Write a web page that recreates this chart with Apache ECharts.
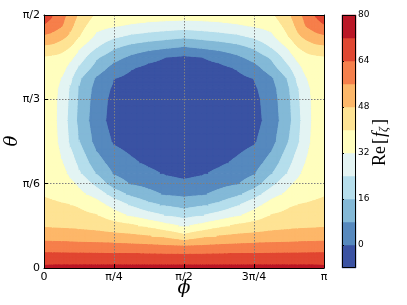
<!DOCTYPE html>
<html><head><meta charset="utf-8">
<script src="https://cdn.jsdelivr.net/npm/echarts@6/dist/echarts.min.js"></script>
<style>html,body{margin:0;padding:0;background:#fff}#c{width:407px;height:305px}</style>
</head><body><div id="c"></div>
<script>
// phi (x) and theta (y) sample positions, in degrees
const phiDeg = [0, 5.625, 11.25, 16.875, 22.5, 33.75, 45, 56.25, 67.5, 78.75, 90, 101.25, 112.5, 123.75, 135, 146.25, 157.5, 163.125, 168.75, 174.375, 180];
const thetaDeg = [0, 3.75, 7.5, 11.25, 15, 18.75, 22.5, 26.25, 30, 33.75, 37.5, 45, 52.5, 60, 63.75, 67.5, 71.25, 75, 78.75, 82.5, 86.25, 90];
// Re[f] values, one row per theta (bottom to top)
const row00 = [73.5,74,74,74,74,74,74,74,74,74,74,74,74,74,74,74,74,74,74,74,73.5];
const row01 = [67.1,67.1,67.1,67.1,67.1,67,67,66.9,66.9,66.8,66.8,66.8,66.9,66.9,67,67,67.1,67.1,67.1,67.1,67.1];
const row02 = [60,60,59.9,59.7,59.5,59.2,58.8,58.4,58,57.4,57,57.4,58,58.4,58.8,59.2,59.5,59.7,59.9,60,60];
const row03 = [52.6,52.3,52.1,51.9,51.5,51.1,50.4,49.6,48.3,46,42,46,48.3,49.6,50.4,51.1,51.5,51.9,52.1,52.3,52.6];
const row04 = [47.1,46.9,46.7,46.4,46.1,45.1,43,41.3,37.8,34.2,31,34.2,37.8,41.3,43,45.1,46.1,46.4,46.7,46.9,47.1];
const row05 = [44.4,43.9,43.3,42.5,41.7,40.3,35.4,30.6,27,23.5,20.8,23.5,27,30.6,35.4,40.3,41.7,42.5,43.3,43.9,44.4];
const row06 = [41.7,41.2,40.6,40,39.1,35.3,28.9,22.8,17.7,14.9,12.7,14.9,17.7,22.8,28.9,35.3,39.1,40,40.6,41.2,41.7];
const row07 = [39.4,38.4,37.2,35.6,34,28.9,20.3,14,10.3,7,6.2,7,10.3,14,20.3,28.9,34,35.6,37.2,38.4,39.4];
const row08 = [38.2,37.8,36.5,33.9,30.6,21.4,11.8,7.3,5.4,2.9,1.5,2.9,5.4,7.3,11.8,21.4,30.6,33.9,36.5,37.8,38.2];
const row09 = [38.3,36.8,34.8,30,24.9,15.4,7.2,4.4,1.7,-1,-2.2,-1,1.7,4.4,7.2,15.4,24.9,30,34.8,36.8,38.3];
const row10 = [37.8,35.8,32.5,27.7,22,11.3,4.3,1.2,-1.5,-3.5,-4.6,-3.5,-1.5,1.2,4.3,11.3,22,27.7,32.5,35.8,37.8];
const row11 = [37,34.8,29.5,22.6,16.2,5,-0.9,-3,-4.8,-5.2,-5.5,-5.2,-4.8,-3,-0.9,5,16.2,22.6,29.5,34.8,37];
const row12 = [36.8,34.5,28.4,21.5,13.8,3.3,-3,-4.5,-5.5,-5.7,-6,-5.7,-5.5,-4.5,-3,3.3,13.8,21.5,28.4,34.5,36.8];
const row13 = [37,34.8,28.6,22.5,14.5,4.2,-2.5,-4,-5,-5.2,-5.5,-5.2,-5,-4,-2.5,4.2,14.5,22.5,28.6,34.8,37];
const row14 = [37.3,35.3,29.4,23.1,15.5,4.8,-1.3,-3,-4.3,-4.6,-5,-4.6,-4.3,-3,-1.3,4.8,15.5,23.1,29.4,35.3,37.3];
const row15 = [37.8,36,31.7,25.8,17.3,6.9,0.2,-2.2,-3.5,-4,-4.5,-4,-3.5,-2.2,0.2,6.9,17.3,25.8,31.7,36,37.8];
const row16 = [38.4,37.3,35,29.3,22.9,12.7,5,0.6,-2,-3.2,-3.4,-3.2,-2,0.6,5,12.7,22.9,29.3,35,37.3,38.4];
const row17 = [39.2,38.5,37.4,34.2,28.3,17.2,10.9,6.2,2.5,-0.1,-1.3,-0.1,2.5,6.2,10.9,17.2,28.3,34.2,37.4,38.5,39.2];
const row18 = [46.7,45.9,43.6,40.1,33.6,24.7,17.5,13.5,11.1,9.5,7.7,9.5,11.1,13.5,17.5,24.7,33.6,40.1,43.6,45.9,46.7];
const row19 = [54.7,53.6,50.6,46.4,40.3,30.3,25.7,22.4,20.6,19,17.7,19,20.6,22.4,25.7,30.3,40.3,46.4,50.6,53.6,54.7];
const row20 = [63,59.7,56.6,50.2,43.4,34.7,32.7,31,29.5,28.5,27.6,28.5,29.5,31,32.7,34.7,43.4,50.2,56.6,59.7,63];
const row21 = [70,64.5,58.9,53.1,46.6,38.5,37.5,36.8,36.3,36,36,36,36.3,36.8,37.5,38.5,46.6,53.1,58.9,64.5,70];
const fGrid = [row00,row01,row02,row03,row04,row05,row06,row07,row08,row09,row10,row11,row12,row13,row14,row15,row16,row17,row18,row19,row20,row21];

const levels = [-8,0,8,16,24,32,40,48,56,64,72,80];
const bandColors = ['#3a52a3','#5689be','#83b9d7','#b5deec','#e3f4f3','#fffebe','#fee394','#fdb769','#f67f4b','#e14631','#bb1626'];
const xTickValues = [0,45,90,135,180];
const xTickLabels = ['0','π/4','π/2','3π/4','π'];
const yTickValues = [0,30,60,90];
const yTickLabels = ['0','π/6','π/3','π/2'];
const cbTickValues = [0,16,32,48,64,80];

const cells = [];
for (let j = 0; j < thetaDeg.length - 1; j++)
  for (let i = 0; i < phiDeg.length - 1; i++) cells.push([i, j]);

function clip(poly, lev, keepAbove) {
  const out = [];
  const n = poly.length;
  for (let k = 0; k < n; k++) {
    const a = poly[k], b = poly[(k + 1) % n];
    const ina = keepAbove ? a[2] >= lev : a[2] <= lev;
    const inb = keepAbove ? b[2] >= lev : b[2] <= lev;
    if (ina) out.push(a);
    if (ina !== inb) {
      const t = (lev - a[2]) / (b[2] - a[2]);
      out.push([a[0] + t * (b[0] - a[0]), a[1] + t * (b[1] - a[1]), lev]);
    }
  }
  return out;
}

const SUB = 3;
function renderContourCell(params, api) {
  const i = api.value(0), j = api.value(1);
  const x0 = phiDeg[i], x1 = phiDeg[i + 1], y0 = thetaDeg[j], y1 = thetaDeg[j + 1];
  const f00 = fGrid[j][i], f10 = fGrid[j][i + 1], f01 = fGrid[j + 1][i], f11 = fGrid[j + 1][i + 1];
  const bil = (s, t) => f00 * (1 - s) * (1 - t) + f10 * s * (1 - t) + f01 * (1 - s) * t + f11 * s * t;
  const vert = (s, t) => { const p = api.coord([x0 + s * (x1 - x0), y0 + t * (y1 - y0)]); return [p[0], p[1], bil(s, t)]; };
  const paths = bandColors.map(() => []);
  for (let a = 0; a < SUB; a++) {
    for (let b = 0; b < SUB; b++) {
      const s0 = a / SUB, s1 = (a + 1) / SUB, t0 = b / SUB, t1 = (b + 1) / SUB;
      const q = [vert(s0, t0), vert(s1, t0), vert(s1, t1), vert(s0, t1)];
      const c = vert((s0 + s1) / 2, (t0 + t1) / 2);
      const tris = [[q[0], q[1], c], [q[1], q[2], c], [q[2], q[3], c], [q[3], q[0], c]];
      tris.forEach(tri => {
        for (let k = 0; k < bandColors.length; k++) {
          let poly = k === 0 ? tri : clip(tri, levels[k], true);
          if (poly.length < 3) continue;
          if (k < bandColors.length - 1) poly = clip(poly, levels[k + 1], false);
          if (poly.length < 3) continue;
          paths[k].push('M' + poly.map(p => p[0].toFixed(2) + ' ' + p[1].toFixed(2)).join('L') + 'Z');
        }
      });
    }
  }
  const children = [];
  paths.forEach((arr, k) => {
    if (arr.length) children.push({
      type: 'path', silent: true,
      shape: { pathData: arr.join('') },
      style: { fill: bandColors[k], stroke: bandColors[k], lineWidth: 1 }
    });
  });
  return { type: 'group', children };
}

function renderColorbar(params, api) {
  const b = api.value(0);
  const p1 = api.coord([0, levels[b + 1]]);
  const p0 = api.coord([1, levels[b]]);
  return { type: 'rect', shape: { x: p1[0], y: p1[1], width: p0[0] - p1[0], height: p0[1] - p1[1] },
    style: { fill: bandColors[b], stroke: bandColors[b], lineWidth: 0.5 } };
}
function renderColorbarFrame(params, api) {
  const p1 = api.coord([0, levels[levels.length - 1]]);
  const p0 = api.coord([1, levels[0]]);
  return { type: 'rect', shape: { x: Math.round(p1[0]) + 0.5, y: Math.round(p1[1]) + 0.5,
    width: Math.round(p0[0] - p1[0]) - 1, height: Math.round(p0[1] - p1[1]) - 1 },
    style: { fill: null, stroke: '#000', lineWidth: 1 } };
}

const tickFont = { color: '#000', fontSize: 11, fontFamily: 'DejaVu Sans' };
const gridLine = { show: true, showMinLine: false, showMaxLine: false, lineStyle: { color: '#808080', type: [1.5, 1.5], width: 1 } };

const chart = echarts.init(document.getElementById('c'), null, { renderer: 'canvas' });
chart.setOption({
  animation: false,
  backgroundColor: '#fff',
  grid: [
    { left: 44, top: 15, width: 280, height: 253 },
    { left: 342, top: 15, width: 14, height: 253 }
  ],
  xAxis: [
    { type: 'value', gridIndex: 0, min: 0, max: 180, interval: 45, z: 5, position: 'bottom',
      axisLine: { show: true, onZero: false, lineStyle: { color: '#000', width: 1 } },
      axisTick: { show: true, inside: true, length: 4, lineStyle: { color: '#000' } },
      axisLabel: { ...tickFont, margin: 4, showMinLabel: true, showMaxLabel: true,
        formatter: v => xTickLabels[xTickValues.indexOf(v)] },
      splitLine: gridLine },
    { type: 'value', gridIndex: 0, min: 0, max: 180, interval: 45, z: 5, position: 'top',
      axisLine: { show: true, onZero: false, lineStyle: { color: '#000', width: 1 } },
      axisTick: { show: false }, axisLabel: { show: false }, splitLine: { show: false } },
    { type: 'value', gridIndex: 1, min: 0, max: 1, show: false }
  ],
  yAxis: [
    { type: 'value', gridIndex: 0, min: 0, max: 90, interval: 30, z: 5, position: 'left',
      axisLine: { show: true, onZero: false, lineStyle: { color: '#000', width: 1 } },
      axisTick: { show: true, inside: true, length: 4, lineStyle: { color: '#000' } },
      axisLabel: { ...tickFont, margin: 4, showMinLabel: true, showMaxLabel: true,
        formatter: v => yTickLabels[yTickValues.indexOf(v)] },
      splitLine: gridLine },
    { type: 'value', gridIndex: 0, min: 0, max: 90, interval: 30, z: 5, position: 'right',
      axisLine: { show: true, onZero: false, lineStyle: { color: '#000', width: 1 } },
      axisTick: { show: false }, axisLabel: { show: false }, splitLine: { show: false } },
    { type: 'value', gridIndex: 1, min: -8, max: 80, position: 'right', z: 5,
      axisLine: { show: false },
      axisTick: { show: true, inside: false, length: 2, customValues: cbTickValues, lineStyle: { color: '#000' } },
      axisLabel: { color: '#000', fontSize: 9, fontFamily: 'DejaVu Sans', margin: 2, customValues: cbTickValues },
      splitLine: { show: false } }
  ],
  series: [
    { type: 'custom', coordinateSystem: 'cartesian2d', xAxisIndex: 0, yAxisIndex: 0,
      clip: true, silent: true, renderItem: renderContourCell, data: cells, z: 2 },
    { type: 'custom', coordinateSystem: 'cartesian2d', xAxisIndex: 2, yAxisIndex: 2,
      silent: true, renderItem: renderColorbar, data: bandColors.map((c, b) => [b]), z: 2 },
    { type: 'custom', coordinateSystem: 'cartesian2d', xAxisIndex: 2, yAxisIndex: 2,
      silent: true, renderItem: renderColorbarFrame, data: [[0]], z: 6 }
  ],
  graphic: [
    { type: 'text', x: 184, y: 288, silent: true,
      style: { text: 'ϕ', fill: '#000', font: 'italic 19px "DejaVu Serif"', textAlign: 'center', textVerticalAlign: 'middle' } },
    { type: 'text', x: 12, y: 141, rotation: Math.PI / 2, silent: true,
      style: { text: 'θ', fill: '#000', font: 'italic 18px "DejaVu Serif"', textAlign: 'center', textVerticalAlign: 'middle' } },
    { type: 'text', x: 380, y: 142, rotation: Math.PI / 2, silent: true,
      style: { text: '{r|Re}{b|[}{f|f}{s|ζ}{b|]}', textAlign: 'center', textVerticalAlign: 'middle',
        rich: {
          r: { fontFamily: 'Liberation Serif', fontSize: 18, fill: '#000' },
          b: { fontFamily: 'Liberation Serif', fontSize: 18, fill: '#000', padding: [0, 1, 0, 2] },
          f: { fontFamily: 'Liberation Serif', fontStyle: 'italic', fontSize: 18, fill: '#000' },
          s: { fontFamily: 'Liberation Serif', fontStyle: 'italic', fontSize: 12, fill: '#000', padding: [8, 0, 0, 0] }
        } } }
  ]
});
</script>
</body></html>
